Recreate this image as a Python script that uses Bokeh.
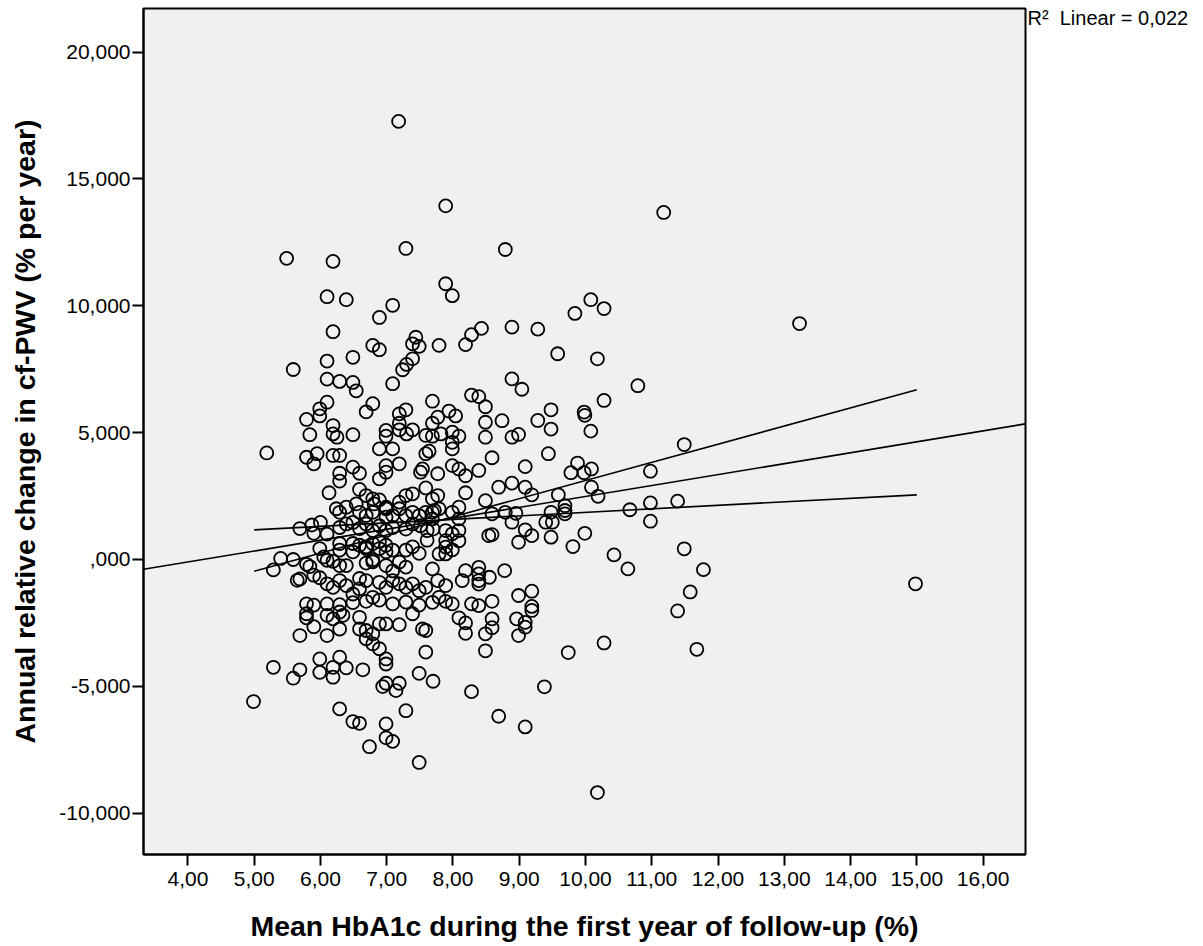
from bokeh.plotting import figure
from bokeh.models import FixedTicker, LinearAxis, Range1d
from bokeh.embed import file_html
from bokeh.resources import INLINE

# ---------------- data ----------------
# axis ticks
x_ticks = [4.0, 5.0, 6.0, 7.0, 8.0, 9.0, 10.0, 11.0, 12.0, 13.0, 14.0, 15.0, 16.0]
x_tick_labels = ["4,00", "5,00", "6,00", "7,00", "8,00", "9,00", "10,00",
                 "11,00", "12,00", "13,00", "14,00", "15,00", "16,00"]
y_ticks = [-10000, -5000, 0, 5000, 10000, 15000, 20000]
y_tick_labels = ["-10,000", "-5,000", ",000", "5,000", "10,000", "15,000", "20,000"]

# scatter points: mean HbA1c (%) vs annual change in cf-PWV (% per year, x1000 display)
hba1c_top = [7.18, 7.89, 7.29, 5.49, 6.19, 8.79, 11.18, 13.23]
pwv_top = [17270, 13940, 12260, 11870, 11750, 12220, 13680, 9300]

hba1c_high_left = [7.89, 6.10, 6.39, 7.09, 6.89, 6.19, 6.79, 6.89, 7.44, 7.39,
                   7.49, 7.79, 7.39, 7.30, 7.24, 6.49, 6.10, 5.59, 7.09, 6.10,
                   6.29, 6.49, 6.54, 7.69, 6.10, 6.79, 6.69, 5.99, 5.99, 5.79,
                   7.19, 7.29, 7.19, 7.19, 7.69, 7.77, 6.19, 5.84, 6.19, 6.49,
                   6.99, 6.99, 7.39, 7.30, 7.59, 7.69, 6.25]
pwv_high_left = [10870, 10360, 10240, 10020, 9540, 8980, 8440, 8270, 8760, 8500,
                 8400, 8440, 7910, 7690, 7480, 7970, 7820, 7490, 6930, 7110,
                 7020, 6980, 6650, 6240, 6200, 6140, 5820, 5940, 5660, 5520,
                 5740, 5900, 5370, 5110, 5370, 5610, 5280, 4920, 4950, 4920,
                 5090, 4860, 5110, 4950, 4890, 4860, 4820]

hba1c_high_right = [7.99, 10.08, 10.28, 9.84, 8.43, 8.28, 8.19, 8.89, 9.28, 9.58,
                    10.18, 8.89, 9.04, 10.28, 8.28, 8.39, 8.49, 7.94, 8.04, 8.49,
                    8.74, 9.28, 9.48, 9.48, 9.98, 9.99, 10.08, 7.82, 7.99, 8.09,
                    8.49, 8.89, 8.99]
pwv_high_right = [10400, 10240, 9890, 9700, 9110, 8860, 8470, 9160, 9080, 8110,
                  7910, 7120, 6710, 6270, 6480, 6420, 6020, 5850, 5660, 5410,
                  5470, 5480, 5900, 5140, 5810, 5680, 5060, 4950, 5020, 4860,
                  4820, 4820, 4930]

hba1c_mid_upper = [5.19, 5.79, 5.95, 5.90, 6.19, 6.29, 6.49, 6.59, 6.29, 6.29,
                   6.89, 7.09, 6.99, 6.99, 6.89, 7.19, 7.59, 7.64, 7.51, 7.54,
                   7.77, 6.13, 6.59, 6.69, 6.79, 6.81, 6.89, 6.99, 7.19, 7.29,
                   7.39, 7.59, 7.69, 7.77, 6.24, 6.29, 6.39, 6.54, 6.59, 6.69,
                   6.79, 6.99, 6.99, 7.09, 7.19, 7.29, 7.39, 7.49, 7.59, 7.69,
                   7.79]
pwv_mid_upper = [4200, 4030, 4170, 3770, 4100, 4100, 3640, 3400, 3400, 3090,
                 4360, 4360, 3700, 3440, 3180, 3770, 4170, 4270, 3440, 3570,
                 3380, 2630, 2760, 2520, 2390, 2190, 2350, 2060, 2260, 2520,
                 2590, 2820, 2390, 2520, 2000, 1860, 2060, 2190, 1860, 1730,
                 1860, 2000, 1670, 1730, 2000, 1730, 1860, 1730, 1860, 1860,
                 2000]

hba1c_mid = [5.69, 5.87, 6.00, 5.90, 6.10, 6.29, 6.39, 6.49, 6.59, 6.69,
             6.79, 6.89, 6.99, 7.09, 7.29, 7.39, 7.51, 7.61, 7.70,
             5.99, 6.29, 6.29, 6.49, 6.59, 6.69, 6.89, 6.99, 6.79, 7.09,
             7.29, 7.39, 7.49, 7.61,
             5.40, 5.59, 5.29, 5.79, 5.84, 6.05, 6.10, 6.19, 6.29, 6.39,
             6.49, 6.69, 6.79, 6.89, 6.99, 6.59, 6.69, 6.79, 6.99, 7.09,
             7.19, 7.29, 7.69]
pwv_mid = [1220, 1360, 1460, 1030, 1000, 1260, 1400, 1460, 1220, 1400,
           1140, 1330, 1140, 1260, 1200, 1400, 1330, 1140, 1200,
           430, 630, 370, 630, 560, 500, 700, 560, 630, 370,
           370, 500, 240, 760,
           40, 0, -410, -190, -280, 100, -30, -70, -240, -240,
           300, 430, -10, 430, 300, -750, -140, -90, -240, -450,
           -100, -300, -370]

hba1c_mid_lower = [5.65, 5.69, 5.90, 5.99, 6.10, 6.19, 6.29, 6.39, 6.49, 6.59,
                   6.69, 6.79, 6.89, 6.99, 7.09, 7.19, 7.29, 7.39, 7.49, 7.59,
                   7.77, 5.79, 5.90, 6.10, 6.29, 6.49, 6.69, 6.89, 7.09, 7.29,
                   7.49]
pwv_mid_lower = [-820, -770, -620, -720, -960, -1100, -830, -1030, -1360, -1160,
                 -830, -1490, -900, -1100, -830, -960, -1100, -960, -1230, -1100,
                 -830, -1750, -1800, -1750, -1780, -1700, -1650, -1600, -1750, -1680,
                 -1800]

hba1c_mid_right = [9.44, 8.59, 9.09, 9.88, 10.09, 9.78, 9.98, 7.99, 7.99, 8.09,
                   8.19, 8.39, 8.69, 8.89, 9.09, 9.19, 8.19, 8.49, 9.59, 10.09,
                   10.19, 8.09, 7.99, 8.09, 8.59, 8.79, 8.95, 8.89, 9.40, 9.48,
                   9.50, 9.69, 9.69, 9.69, 10.67, 7.89, 7.99, 8.09, 8.09, 7.89,
                   8.54, 8.59, 9.09, 9.19, 8.99, 9.48, 9.99, 9.81, 10.43, 10.64,
                   7.79, 7.89, 7.89, 7.99, 8.19, 8.39, 8.39, 8.39, 8.39, 8.14,
                   8.55, 8.78, 7.89, 7.79, 7.89, 7.99, 7.69, 8.28, 8.39, 8.59,
                   8.99, 9.19, 9.19, 7.72, 7.69, 7.99]
pwv_mid_right = [4170, 4010, 3660, 3800, 3570, 3420, 3420, 4360, 3700, 3570,
                 3300, 3510, 2850, 3010, 2850, 2550, 2630, 2320, 2550, 2850,
                 2490, 2060, 1860, 1600, 1800, 1860, 1820, 1470, 1470, 1860,
                 1470, 2120, 1930, 1800, 1960, 1140, 1010, 1140, 740, 740,
                 940, 980, 1170, 940, 680, 880, 1030, 510, 180, -370,
                 220, 220, 490, 380, -440, -310, -570, -830, -970, -830,
                 -700, -440, -1030, -1490, -1650, -1750, -1690, -1750, -1820, -1650,
                 -1420, -1250, -1850, 1930, 1600, 4620]

hba1c_low_left = [4.99, 5.29, 5.69, 5.59, 5.99, 5.99, 6.29, 6.19, 6.19, 6.39,
                  6.64, 5.69, 5.90, 6.10, 6.29, 5.79, 5.79, 6.10, 6.19, 6.34,
                  6.29, 6.59, 6.59, 6.69, 6.69, 6.79, 6.79, 6.89, 6.99, 6.89,
                  6.99, 6.99, 7.19, 7.39, 7.54, 7.59, 7.59, 7.49, 7.70, 6.94,
                  6.99, 7.19, 7.14, 6.29, 6.49, 6.59, 6.99, 6.99, 7.09, 6.74,
                  7.29, 7.49]
pwv_low_left = [-5600, -4250, -4350, -4680, -3920, -4450, -3850, -4250, -4640, -4270,
                -4350, -3000, -2650, -3000, -2740, -2140, -2300, -2200, -2340, -2200,
                -2070, -2280, -2740, -2800, -3130, -2930, -3330, -2540, -2540, -3520,
                -3920, -4120, -2570, -2140, -2740, -2800, -3650, -4490, -4800, -5010,
                -4880, -4880, -5170, -5890, -6390, -6460, -6480, -7030, -7170, -7380,
                -5960, -8000]

hba1c_low_right = [8.09, 8.19, 8.19, 8.59, 8.59, 8.49, 8.49, 8.96, 9.09, 9.09,
                   8.99, 9.19, 8.28, 8.69, 9.09, 9.38, 9.74, 10.28, 10.18, 10.79,
                   11.49, 10.98, 10.98, 11.39, 10.98, 11.49, 11.78, 14.98, 11.58, 11.39,
                   11.68]
pwv_low_right = [-2300, -2500, -2910, -2340, -2690, -2930, -3600, -2340, -2480, -2670,
                 -3000, -2010, -5210, -6180, -6600, -5020, -3670, -3290, -9190, 6850,
                 4530, 3480, 2230, 2300, 1510, 420, -400, -960, -1280, -2030,
                 -3540]

# fitted lines (end points)
fit_x = [3.33, 16.64]
fit_y = [-388, 5346]
line_a_x = [5.0, 15.0]
line_a_y = [-465, 6690]
line_b_x = [5.0, 15.0]
line_b_y = [1168, 2548]

r2_text = "R\u00b2\u00a0 Linear = 0,022"

groups_x = [hba1c_top, hba1c_high_left, hba1c_high_right, hba1c_mid_upper, hba1c_mid,
            hba1c_mid_lower, hba1c_mid_right, hba1c_low_left, hba1c_low_right]
groups_y = [pwv_top, pwv_high_left, pwv_high_right, pwv_mid_upper, pwv_mid,
            pwv_mid_lower, pwv_mid_right, pwv_low_left, pwv_low_right]
xs, ys = [], []
for gx, gy in zip(groups_x, groups_y):
    assert len(gx) == len(gy), (len(gx), len(gy))
    xs += gx
    ys += gy

# ---------------- figure ----------------
FONT = "Liberation Sans"
FRAME_H = 846
p = figure(width=1203, height=946, x_range=(3.33, 16.64), y_range=(-11630, 21720),
           output_backend="svg", toolbar_location=None,
           min_border_left=143, min_border_right=178, min_border_top=8, min_border_bottom=92,
           background_fill_color="#F0F0F0", border_fill_color="white")
p.outline_line_color = "black"
p.outline_line_width = 2
p.xgrid.grid_line_color = None
p.ygrid.grid_line_color = None

p.xaxis.ticker = FixedTicker(ticks=x_ticks)
p.xaxis.major_label_overrides = {t: l for t, l in zip(x_ticks, x_tick_labels)}
p.yaxis.ticker = FixedTicker(ticks=y_ticks)
p.yaxis.major_label_overrides = {t: l for t, l in zip(y_ticks, y_tick_labels)}

for ax in (p.xaxis[0], p.yaxis[0]):
    ax.axis_line_color = "black"
    ax.axis_line_width = 2
    ax.major_tick_line_color = "black"
    ax.major_tick_line_width = 2
    ax.major_tick_in = 0
    ax.major_tick_out = 11
    ax.minor_tick_line_color = None
    ax.major_label_text_font = FONT
    ax.major_label_text_font_size = "21px"
    ax.major_label_text_color = "black"
    ax.axis_label_text_font = FONT
    ax.axis_label_text_font_size = "28.5px"
    ax.axis_label_text_font_style = "bold"
    ax.axis_label_text_color = "black"

p.xaxis.axis_label = "Mean HbA1c during the first year of follow-up (%)"
p.yaxis.axis_label = "Annual relative change in cf-PWV (% per year)"
p.xaxis.major_label_standoff = 6
p.xaxis.axis_label_standoff = 21
p.yaxis.major_label_standoff = 2
p.yaxis.axis_label_standoff = 15

p.line(fit_x, fit_y, line_color="black", line_width=1.6)
p.line(line_a_x, line_a_y, line_color="black", line_width=1.6)
p.line(line_b_x, line_b_y, line_color="black", line_width=1.6)

p.scatter(xs, ys, marker="circle", size=13, fill_color=None,
          line_color="black", line_width=1.8)

# R-squared note at the top right, outside the frame: an unticked right-hand axis
# whose single label sits 9 px below the frame top
p.extra_y_ranges = {"note": Range1d(0, FRAME_H)}
note_pos = FRAME_H - 9
note_axis = LinearAxis(y_range_name="note", ticker=FixedTicker(ticks=[note_pos]),
                       major_label_overrides={note_pos: r2_text},
                       axis_line_color=None, major_tick_line_color=None,
                       minor_tick_line_color=None, major_tick_in=0, major_tick_out=0,
                       major_label_standoff=2, major_label_text_font=FONT,
                       major_label_text_font_size="20px", major_label_text_color="black")
p.add_layout(note_axis, "right")

open("out.html", "w").write(file_html(p, INLINE))
